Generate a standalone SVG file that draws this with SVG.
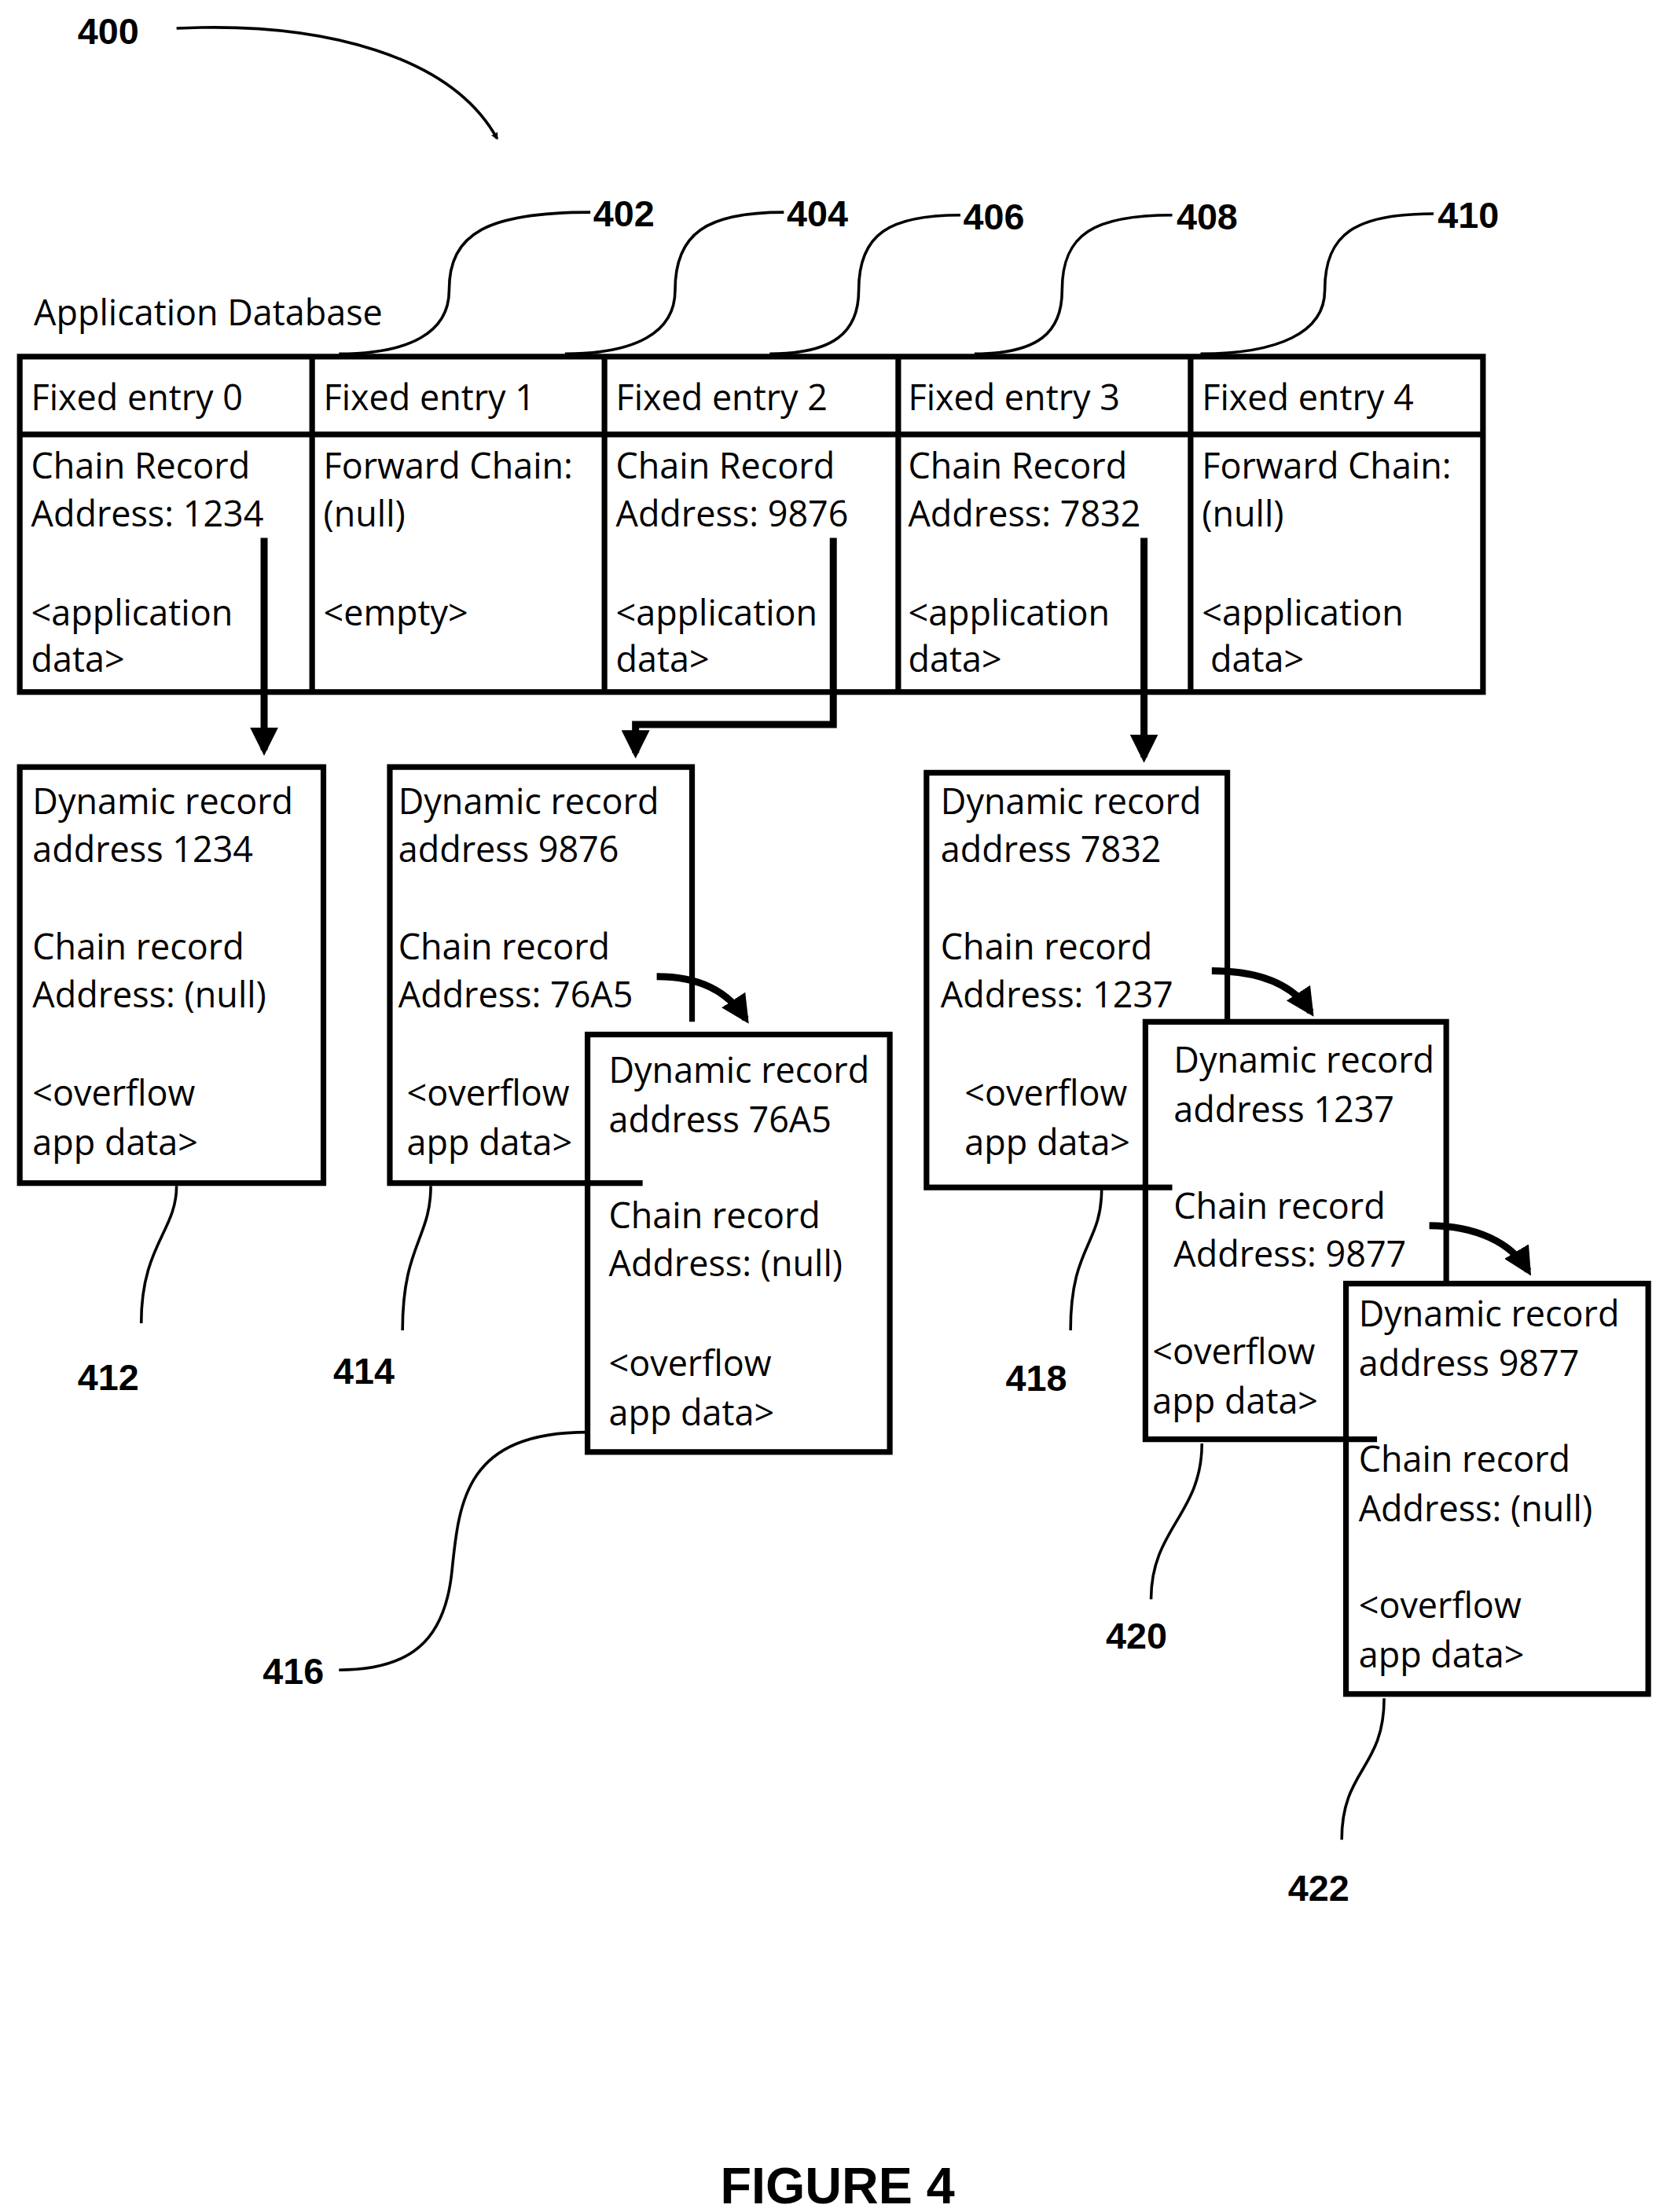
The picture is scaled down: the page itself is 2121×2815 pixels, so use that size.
<svg xmlns="http://www.w3.org/2000/svg" width="2121" height="2815" viewBox="0 0 2121 2815">
<style>
.b{fill:#fff;stroke:#000;stroke-width:4}
.l{fill:none;stroke:#000;stroke-width:4}
.t{font-family:"Open Sans","Liberation Sans",sans-serif;font-size:25px;fill:#000}
.n{font-family:"Liberation Sans",Arial,sans-serif;font-size:26px;font-weight:bold;fill:#000}
.ld{fill:none;stroke:#000;stroke-width:2}
.ar{fill:none;stroke:#000;stroke-width:5}
</style>
<defs>
<marker id="ah" viewBox="0 0 10 10" refX="8" refY="5" markerWidth="4" markerHeight="4" orient="auto" markerUnits="strokeWidth"><path d="M0,0 L10,5 L0,10 z" fill="#000"/></marker>
<marker id="ah2" viewBox="0 0 10 10" refX="8" refY="5" markerWidth="5" markerHeight="5" orient="auto" markerUnits="userSpaceOnUse"><path d="M0,0 L10,5 L0,10 z" fill="#000"/></marker>
</defs>
<rect width="2121" height="2815" fill="#fff"/>
<g transform="scale(1.797,1.801)">
<g id="label400"><text class="n" x="55" y="31">400</text></g>
<g id="table">
<text class="t" x="24" y="230">Application Database</text>
<rect class="b" x="14" y="252" width="1036" height="237"/>
<line class="l" x1="14" y1="307" x2="1050" y2="307"/>
<line class="l" x1="221" y1="252" x2="221" y2="489"/>
<line class="l" x1="428" y1="252" x2="428" y2="489"/>
<line class="l" x1="636" y1="252" x2="636" y2="489"/>
<line class="l" x1="843" y1="252" x2="843" y2="489"/>
</g>
<g id="e0"><text class="t" x="22" y="290">Fixed entry 0</text><text class="t" x="22" y="338">Chain Record</text><text class="t" x="22" y="372">Address: 1234</text><text class="t" x="22" y="442">&lt;application</text><text class="t" x="22" y="475">data&gt;</text></g>
<g id="e1"><text class="t" x="229" y="290">Fixed entry 1</text><text class="t" x="229" y="338">Forward Chain:</text><text class="t" x="229" y="372">(null)</text><text class="t" x="229" y="442">&lt;empty&gt;</text></g>
<g id="e2"><text class="t" x="436" y="290">Fixed entry 2</text><text class="t" x="436" y="338">Chain Record</text><text class="t" x="436" y="372">Address: 9876</text><text class="t" x="436" y="442">&lt;application</text><text class="t" x="436" y="475">data&gt;</text></g>
<g id="e3"><text class="t" x="643" y="290">Fixed entry 3</text><text class="t" x="643" y="338">Chain Record</text><text class="t" x="643" y="372">Address: 7832</text><text class="t" x="643" y="442">&lt;application</text><text class="t" x="643" y="475">data&gt;</text></g>
<g id="e4"><text class="t" x="851" y="290">Fixed entry 4</text><text class="t" x="851" y="338">Forward Chain:</text><text class="t" x="851" y="372">(null)</text><text class="t" x="851" y="442">&lt;application</text><text class="t" x="857" y="475">data&gt;</text></g>
<g id="r412"><rect class="b" x="14" y="542" width="215" height="294"/>
<text class="t" x="23" y="575">Dynamic record</text><text class="t" x="23" y="609">address 1234</text><text class="t" x="23" y="678">Chain record</text><text class="t" x="23" y="712">Address: (null)</text><text class="t" x="23" y="781">&lt;overflow</text><text class="t" x="23" y="816">app data&gt;</text></g>
<g id="r414"><path class="l" d="M490,722 V542 H276 V836 H455"/>
<text class="t" x="282" y="575">Dynamic record</text><text class="t" x="282" y="609">address 9876</text><text class="t" x="282" y="678">Chain record</text><text class="t" x="282" y="712">Address: 76A5</text><text class="t" x="288" y="781">&lt;overflow</text><text class="t" x="288" y="816">app data&gt;</text></g>
<g id="r416"><rect class="l" x="416" y="731" width="214" height="295"/>
<text class="t" x="431" y="765">Dynamic record</text><text class="t" x="431" y="800">address 76A5</text><text class="t" x="431" y="868">Chain record</text><text class="t" x="431" y="902">Address: (null)</text><text class="t" x="431" y="972">&lt;overflow</text><text class="t" x="431" y="1007">app data&gt;</text></g>
<g id="r418"><path class="l" d="M869,722 V546 H656 V839 H830"/>
<text class="t" x="666" y="575">Dynamic record</text><text class="t" x="666" y="609">address 7832</text><text class="t" x="666" y="678">Chain record</text><text class="t" x="666" y="712">Address: 1237</text><text class="t" x="683" y="781">&lt;overflow</text><text class="t" x="683" y="816">app data&gt;</text></g>
<g id="r420"><path class="l" d="M953,1017 H811 V722 H1024 V905"/>
<text class="t" x="831" y="758">Dynamic record</text><text class="t" x="831" y="793">address 1237</text><text class="t" x="831" y="861">Chain record</text><text class="t" x="831" y="895">Address: 9877</text><text class="t" x="816" y="964">&lt;overflow</text><text class="t" x="816" y="999">app data&gt;</text><line class="l" x1="953" y1="1017" x2="975" y2="1017"/></g>
<g id="r422"><rect class="l" x="953" y="907" width="214" height="290"/>
<text class="t" x="962" y="937">Dynamic record</text><text class="t" x="962" y="972">address 9877</text><text class="t" x="962" y="1040">Chain record</text><text class="t" x="962" y="1075">Address: (null)</text><text class="t" x="962" y="1143">&lt;overflow</text><text class="t" x="962" y="1178">app data&gt;</text></g>
<g id="labels">
<text class="n" x="420" y="160">402</text><text class="n" x="557" y="160">404</text><text class="n" x="682" y="162">406</text><text class="n" x="833" y="162">408</text><text class="n" x="1018" y="161">410</text>
<text class="n" x="55" y="982">412</text><text class="n" x="236" y="978">414</text><text class="n" x="186" y="1190">416</text><text class="n" x="712" y="983">418</text><text class="n" x="783" y="1165">420</text><text class="n" x="912" y="1343">422</text>
<text class="n" x="593" y="1557" text-anchor="middle" style="font-size:36px">FIGURE 4</text>
</g>
<g id="connectors">
<path class="ld" d="M125,20 C230,15 320,40 352,98" marker-end="url(#ah2)"/>
<path class="ld" d="M240,250 C290,250 318,235 318,205 C318,165 345,150 418,150"/>
<path class="ld" d="M400,250 C450,250 478,235 478,205 C478,165 500,150 555,150"/>
<path class="ld" d="M545,250 C590,250 608,235 608,205 C608,165 630,152 680,152"/>
<path class="ld" d="M690,250 C735,250 752,235 752,205 C752,165 775,152 830,152"/>
<path class="ld" d="M850,250 C905,250 938,235 938,205 C938,165 960,151 1015,151"/>
<path class="ld" d="M125,838 C125,870 100,880 100,935"/>
<path class="ld" d="M305,838 C305,875 285,880 285,940"/>
<path class="ld" d="M416,1012 C330,1012 325,1060 320,1110 C315,1160 290,1180 240,1180"/>
<path class="ld" d="M780,840 C780,880 758,880 758,940"/>
<path class="ld" d="M851,1020 C851,1070 815,1080 815,1130"/>
<path class="ld" d="M980,1200 C980,1250 950,1250 950,1300"/>
<path class="ar" d="M187,380 V530" marker-end="url(#ah)"/>
<path class="ar" d="M590,380 V512 H450 V532" marker-end="url(#ah)"/>
<path class="ar" d="M810,380 V535" marker-end="url(#ah)"/>
<path class="ar" d="M465,690 C495,690 515,700 528,720" marker-end="url(#ah)"/>
<path class="ar" d="M858,686 C890,686 915,695 928,715" marker-end="url(#ah)"/>
<path class="ar" d="M1012,866 C1045,866 1070,878 1082,898" marker-end="url(#ah)"/>
</g>
</g>
</svg>
